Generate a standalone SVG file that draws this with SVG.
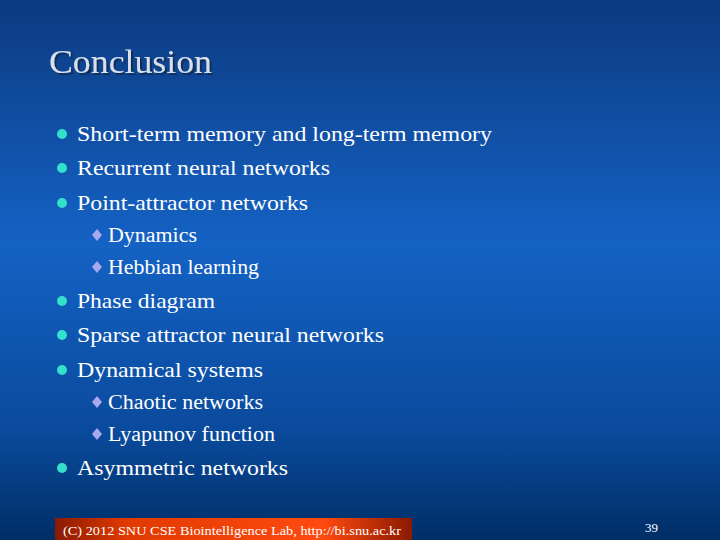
<svg xmlns="http://www.w3.org/2000/svg" width="720" height="540" viewBox="0 0 720 540">
<style>
text{font-family:"Liberation Serif","Times New Roman","DejaVu Serif",serif}
.b{font-size:22px;fill:#ffffff}
.s{font-size:20px;fill:#ffffff}
.dot{fill:#33e0cc}
.dia{fill:#a8a8f0}
</style>
<defs>
<linearGradient id="bg" x1="0" y1="0" x2="0" y2="1">
<stop offset="0" stop-color="#0c3a80"/>
<stop offset="0.45" stop-color="#1462c4"/>
<stop offset="0.8" stop-color="#0a4a9c"/>
<stop offset="1" stop-color="#002e66"/>
</linearGradient>
<linearGradient id="ft" x1="0" y1="0" x2="1" y2="0">
<stop offset="0" stop-color="#8a1a00"/>
<stop offset="0.2" stop-color="#e03a00"/>
<stop offset="0.75" stop-color="#ff4a10"/>
<stop offset="1" stop-color="#8a1a00"/>
</linearGradient>
<filter id="sh" x="-10%" y="-20%" width="130%" height="150%">
<feDropShadow dx="2" dy="2" stdDeviation="0.6" flood-color="#102040" flood-opacity="0.7"/>
</filter>
</defs>
<rect width="720" height="540" fill="url(#bg)"/>
<text x="49" y="73" font-size="33" fill="#d8e0ec" filter="url(#sh)" textLength="163" lengthAdjust="spacingAndGlyphs">Conclusion</text>
<g id="bullets">
<circle class="dot" cx="62" cy="134" r="5"/><text class="b" x="77" y="141" textLength="415" lengthAdjust="spacingAndGlyphs">Short-term memory and long-term memory</text>
<circle class="dot" cx="62" cy="168" r="5"/><text class="b" x="77" y="175" textLength="253" lengthAdjust="spacingAndGlyphs">Recurrent neural networks</text>
<circle class="dot" cx="62" cy="203" r="5"/><text class="b" x="77" y="210" textLength="231" lengthAdjust="spacingAndGlyphs">Point-attractor networks</text>
<path class="dia" d="M97 229l5 6-5 6-5-6z"/><text class="s" x="108" y="242" textLength="89" lengthAdjust="spacingAndGlyphs">Dynamics</text>
<path class="dia" d="M97 261l5 6-5 6-5-6z"/><text class="s" x="108" y="274" textLength="151" lengthAdjust="spacingAndGlyphs">Hebbian learning</text>
<circle class="dot" cx="62" cy="301" r="5"/><text class="b" x="77" y="308" textLength="138" lengthAdjust="spacingAndGlyphs">Phase diagram</text>
<circle class="dot" cx="62" cy="335" r="5"/><text class="b" x="77" y="342" textLength="307" lengthAdjust="spacingAndGlyphs">Sparse attractor neural networks</text>
<circle class="dot" cx="62" cy="370" r="5"/><text class="b" x="77" y="377" textLength="186" lengthAdjust="spacingAndGlyphs">Dynamical systems</text>
<path class="dia" d="M97 396l5 6-5 6-5-6z"/><text class="s" x="108" y="409" textLength="155" lengthAdjust="spacingAndGlyphs">Chaotic networks</text>
<path class="dia" d="M97 428l5 6-5 6-5-6z"/><text class="s" x="108" y="441" textLength="167" lengthAdjust="spacingAndGlyphs">Lyapunov function</text>
<circle class="dot" cx="62" cy="468" r="5"/><text class="b" x="77" y="475" textLength="211" lengthAdjust="spacingAndGlyphs">Asymmetric networks</text>
</g>
<g id="footer">
<rect x="55" y="518" width="357" height="22" fill="url(#ft)"/>
<text x="63" y="535" font-size="13.5" fill="#ffffff" textLength="338" lengthAdjust="spacingAndGlyphs">(C) 2012 SNU CSE Biointelligence Lab,   http://bi.snu.ac.kr</text>
<text x="645" y="532" font-size="13" fill="#ffffff">39</text>
</g>
</svg>
